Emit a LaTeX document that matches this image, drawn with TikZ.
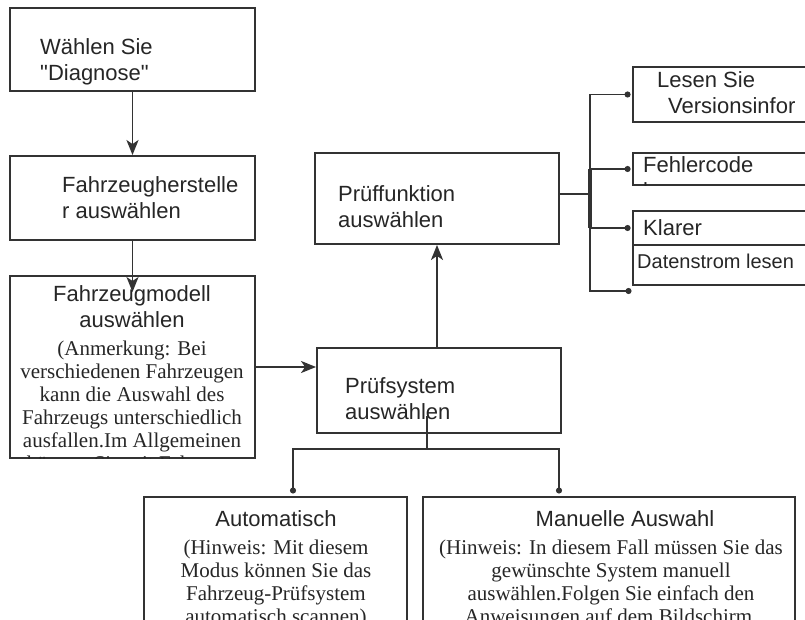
\documentclass[tikz,border=0pt]{standalone}
\usepackage{fontspec}
\setmainfont{Liberation Serif}
\setsansfont{Liberation Sans}[Ligatures=TeXOff]
\usepackage{xcolor}
\usepackage{tikz}
\usetikzlibrary{arrows.meta,positioning}

\definecolor{linegray}{HTML}{333333}
\definecolor{textgray}{HTML}{262626}

\tikzset{
  box/.style={draw=linegray, line width=1.9pt, fill=white, inner sep=0pt},
  head/.style={font=\sffamily\fontsize{22}{26}\selectfont, text=textgray, inner sep=0pt},
  note/.style={font=\rmfamily\fontsize{21}{23}\selectfont, text=textgray, inner sep=0pt, align=center},
  conn/.style={draw=linegray, line width=1.9pt},
  arr/.style={conn, -{Stealth[length=15pt,width=12pt,inset=4pt]}},
  dotend/.style={conn, -{Circle[length=6pt]}, shorten >=1.5pt}
}

\begin{document}
\begin{tikzpicture}[x=1pt, y=-1pt]
\useasboundingbox (0,0) rectangle (805,620);
\clip (0,0) rectangle (805,620);

% boxes
\node[box, minimum width=245pt, minimum height=83pt] (diag) at (132.5,49.5) {};
\node[box, minimum width=245pt, minimum height=84pt] (herst) at (132.5,198) {};
\node[box, minimum width=245pt, minimum height=182pt] (modell) at (132.5,367) {};
\node[box, minimum width=244pt, minimum height=91pt] (pruefkt) at (437,198.5) {};
\node[box, minimum width=244pt, minimum height=85pt] (pruefsys) at (439,390.5) {};
\node[box, minimum width=263pt, minimum height=163pt] (auto) at (275.5,578.5) {};
\node[box, minimum width=372pt, minimum height=163pt] (manuell) at (609,578.5) {};
\node[box, minimum width=217pt, minimum height=55pt] (lesen) at (741.5,94.5) {};
\node[box, minimum width=217pt, minimum height=32pt] (fehler) at (741.5,169) {};
\node[box, minimum width=217pt, minimum height=34pt] (klarer) at (741.5,228) {};
\node[box, minimum width=217pt, minimum height=40pt] (daten) at (741.5,265) {};

% texts (\strut: first baseline = top + 0.7 leading)
\node[head, anchor=north west, align=left] (diagtxt) at (40,35.8) {\strut Wählen Sie\\"Diagnose"};
\node[head, anchor=north west, align=left] (hersttxt) at (62,173.8) {\strut Fahrzeugherstelle\\r auswählen};
\node[head, anchor=north, align=center] (modelltxt) at (132,282.8) {\strut Fahrzeugmodell\\auswählen};
\begin{scope}
\clip (modell.north west) rectangle (modell.south east);
\node[note, anchor=north] (modellnote) at (132,338.9) {\strut(Anmerkung: Bei\\verschiedenen Fahrzeugen\\kann die Auswahl des\\Fahrzeugs unterschiedlich\\ausfallen.Im Allgemeinen\\können Sie mit Fahrzeug};
\end{scope}
\node[head, anchor=north west, align=left] (pruefkttxt) at (338,182.8) {\strut Prüffunktion\\auswählen};
\node[head, anchor=north west, align=left] (pruefsystxt) at (345,374.8) {\strut Prüfsystem\\auswählen};
\node[head, anchor=north] (autotxt) at (276,507.8) {\strut Automatisch};
\node[note, anchor=north] (autonote) at (276,537.9) {\strut(Hinweis: Mit diesem\\Modus können Sie das\\Fahrzeug-Prüfsystem\\automatisch scannen)};
\node[head, anchor=north] (manuelltxt) at (625,507.8) {\strut Manuelle Auswahl};
\node[note, anchor=north] (manuellnote) at (611,537.9) {\strut(Hinweis: In diesem Fall müssen Sie das\\gewünschte System manuell\\auswählen.Folgen Sie einfach den\\Anweisungen auf dem Bildschirm.};
\node[head, anchor=north west, align=left] (lesentxt) at (657,68.8) {\strut Lesen Sie\\\hspace*{11pt}Versionsinfor};
\begin{scope}
\clip (fehler.north west) rectangle (fehler.south east);
\node[head, anchor=north west, align=left] (fehlertxt) at (643,153.8) {\strut Fehlercode\\lesen};
\end{scope}
\node[head, anchor=north west] (klarertxt) at (643,216.8) {\strut Klarer};
\node[head, anchor=north west, font=\sffamily\fontsize{20}{24}\selectfont] (datentxt) at (637,251.2) {\strut Datenstrom lesen};

% connectors
\coordinate (modtip) at (132.5,292);
\coordinate (sysin) at (427,416);
\coordinate (split) at (427,449);
\coordinate (autotop) at (293,495);
\coordinate (mantop) at (559,495);
\coordinate (fork) at (590,194);
\coordinate (endtip) at (633,291);

\draw[arr] (diag.south) -- (herst.north);
\draw[arr] (herst.south) -- (modtip);
\draw[arr] (modell.east) -- (modell.east -| pruefsys.west);
\draw[arr] (pruefkt.south |- pruefsys.north) -- (pruefkt.south);

\draw[conn] (sysin) -- (split);
\draw[dotend] (split) -| (autotop);
\draw[dotend] (split) -| (mantop);

\draw[conn] (pruefkt.east |- fork) -- (fork);
\draw[dotend] (fork) |- (lesen.west);
\draw[dotend] (fork) |- (fehler.west);
\draw[dotend] (fork) |- (klarer.west);
\draw[dotend] (fork) |- (endtip);
\draw[conn, line width=3.2pt] (fork |- fehler.west) -- (fork |- klarer.west);
\end{tikzpicture}
\end{document}
